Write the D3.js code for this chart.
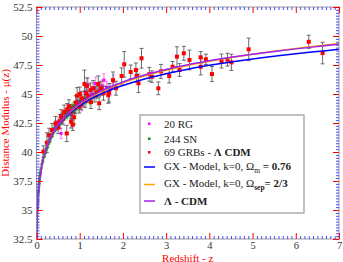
<!DOCTYPE html>
<html><head><meta charset="utf-8">
<script src="https://cdn.jsdelivr.net/npm/d3@7"></script>
<style>
html,body{margin:0;padding:0;background:#fff;}
svg{display:block;font-family:"Liberation Serif","Times New Roman",serif;}
</style></head>
<body>
<svg id="c" width="343" height="262"></svg>
<script>
// ---- data ----
const xTicks = [0,1,2,3,4,5,6,7];
const yTicks = [32.5,35,37.5,40,42.5,45,47.5,50,52.5];
const yTickLabels = ["32.5","35","37.5","40","42.5","45","47.5","50","52.5"];

const curveZ = [0.007,0.01,0.015,0.02,0.03,0.05,0.07,0.1,0.15,0.2,0.25,0.3,0.4,0.5,0.6,0.7,0.8,0.9,1.0,1.2,1.4,1.6,1.8,2.0,2.5,3.0,3.5,4.0,4.5,5.0,5.5,6.0,6.5,7.0];
const muLCDM = [32.48,33.26,34.14,34.77,35.66,36.78,37.52,38.31,39.36,40.05,40.60,41.05,41.78,42.36,42.83,43.23,43.58,43.90,44.19,44.69,45.10,45.45,45.76,46.04,46.63,47.11,47.52,47.86,48.16,48.43,48.67,48.89,49.09,49.28];
const muGXm = [32.48,33.26,34.14,34.77,35.66,36.78,37.51,38.30,39.34,40.02,40.56,41.00,41.71,42.27,42.72,43.10,43.43,43.73,44.00,44.47,44.85,45.18,45.47,45.73,46.29,46.75,47.14,47.47,47.76,48.02,48.25,48.47,48.66,48.85];
const muGXsep = [32.48,33.26,34.14,34.77,35.66,36.78,37.52,38.31,39.36,40.05,40.60,41.05,41.77,42.34,42.80,43.19,43.53,43.85,44.13,44.62,45.02,45.37,45.68,45.96,46.55,47.04,47.46,47.82,48.14,48.43,48.69,48.93,49.14,49.35];

const snZ = [0.012,0.014,0.015,0.016,0.018,0.02,0.021,0.023,0.025,0.026,0.028,0.03,0.031,0.033,0.035,0.036,0.038,0.04,0.042,0.045,0.048,0.05,0.053,0.055,0.058,0.06,0.063,0.065,0.068,0.07,0.074,0.078,0.08,0.085,0.09,0.095,0.1,0.11,0.12,0.13,
0.14,0.15,0.16,0.17,0.18,0.19,0.2,0.21,0.22,0.23,0.24,0.25,0.26,0.27,0.28,0.29,0.3,0.31,0.32,0.33,0.34,0.35,0.36,0.37,0.38,0.39,0.40,0.41,0.42,0.43,0.44,0.45,0.46,0.47,0.48,0.49,0.50,0.51,0.52,0.53,0.54,0.55,0.56,0.57,0.58,0.59,
0.6,0.61,0.62,0.63,0.64,0.65,0.66,0.67,0.68,0.69,0.7,0.71,0.72,0.73,0.74,0.75,0.76,0.77,0.78,0.8,0.81,0.82,0.83,0.85,0.86,0.87,0.88,0.9,0.92,0.93,0.95,0.97,0.98,1.0,1.02,1.05,1.07,1.1,1.12,1.15,1.2,1.23,1.26,1.3,1.34,1.39,1.45,1.55];
const snMu = [33.6,33.9,34.2,34.0,34.5,34.9,34.7,35.1,35.3,35.0,35.6,35.7,35.5,35.9,36.1,35.8,36.3,36.3,36.5,36.6,36.9,36.7,37.0,37.2,37.1,37.3,37.5,37.3,37.6,37.7,37.8,37.9,38.1,38.0,38.3,38.2,38.5,38.6,38.9,39.0,
39.3,39.2,39.5,39.7,39.6,39.9,40.1,39.9,40.3,40.2,40.5,40.6,40.4,40.9,40.7,41.0,41.1,40.9,41.3,41.2,41.5,41.3,41.6,41.5,41.8,41.7,42.0,41.8,42.1,41.9,42.2,42.0,42.3,42.1,42.4,42.2,42.5,42.3,42.6,42.4,42.7,42.5,42.8,42.6,42.9,42.7,
42.9,43.1,42.8,43.2,43.0,43.3,43.1,43.4,43.0,43.3,43.2,43.5,43.1,43.4,43.6,43.3,43.7,43.4,43.6,43.5,43.8,43.4,43.9,43.6,44.0,43.7,43.4,43.9,44.1,43.7,44.2,43.9,44.3,44.0,44.4,44.1,44.5,44.2,44.6,44.3,44.7,44.4,44.8,44.6,45.0,44.8,45.2,45.3];
const snErr = [0.15,0.15,0.2,0.15,0.2,0.2,0.15,0.2,0.2,0.2,0.2,0.2,0.2,0.2,0.2,0.2,0.2,0.2,0.2,0.2,0.2,0.2,0.25,0.2,0.25,0.2,0.25,0.2,0.25,0.2,0.25,0.2,0.25,0.2,0.25,0.2,0.25,0.3,0.25,0.3,
0.3,0.25,0.3,0.3,0.25,0.3,0.3,0.35,0.3,0.3,0.35,0.3,0.3,0.35,0.3,0.35,0.3,0.3,0.35,0.3,0.35,0.3,0.35,0.3,0.35,0.3,0.35,0.3,0.35,0.3,0.35,0.3,0.35,0.3,0.35,0.3,0.35,0.3,0.35,0.3,0.35,0.3,0.35,0.3,0.35,0.3,
0.35,0.4,0.35,0.4,0.35,0.4,0.35,0.4,0.35,0.4,0.35,0.4,0.35,0.4,0.35,0.4,0.35,0.4,0.35,0.4,0.4,0.35,0.4,0.4,0.45,0.4,0.4,0.45,0.4,0.45,0.4,0.45,0.4,0.45,0.4,0.45,0.4,0.45,0.4,0.45,0.4,0.45,0.4,0.45,0.4,0.45,0.4,0.45];

const rgZ = [0.44,0.50,0.57,0.62,0.75,0.81,0.94,1.05,1.12,1.19,1.22,1.29,1.34,1.37,1.45,1.52,1.56,1.62,1.71,1.78];
const rgMu = [42.3,42.6,41.6,42.9,43.6,43.2,44.4,44.0,45.2,45.8,44.9,45.0,45.5,45.9,45.3,45.7,46.2,45.6,45.4,46.1];
const rgErr = [0.4,0.4,0.45,0.4,0.45,0.4,0.5,0.45,0.5,0.55,0.45,0.5,0.5,0.55,0.5,0.5,0.55,0.5,0.5,0.55];

const grbZ = [0.16,0.24,0.29,0.36,0.44,0.50,0.54,0.57,0.61,0.64,0.70,0.71,0.75,0.80,0.80,0.84,0.87,0.89,0.91,0.94,0.99,1.00,1.03,1.05,1.11,1.12,1.15,1.17,1.19,1.25,1.26,1.31,1.35,1.40,1.43,1.45,1.49,1.55,1.66,1.68,1.84,1.97,2.03,2.30,2.32,2.36,2.43,2.61,2.67,2.82,3.07,3.15,3.25,3.31,3.41,3.54,3.80,3.80,3.92,4.06,4.28,4.42,4.51,4.91,6.30,6.62,1.77,2.18,2.88];
const grbMu = [40.03,40.8,41.45,41.9,42.47,42.1,42.65,43.1,42.85,43.45,41.6,43.68,43.95,43.47,42.61,42.35,43.0,43.8,44.25,44.85,43.91,45.0,44.15,44.63,45.86,44.4,45.06,45.7,44.75,45.34,44.3,45.5,44.9,45.15,45.86,44.2,45.49,45.06,44.9,45.1,45.5,46.55,47.56,47.07,46.55,45.92,48.08,46.7,46.49,45.49,46.55,47.35,48.22,47.07,48.51,47.93,48.16,47.35,47.99,46.72,47.84,47.96,47.73,48.85,49.5,48.53,46.2,46.9,46.95];
const grbErr = [0.5,0.86,0.6,0.55,0.6,0.5,0.6,0.55,0.5,0.6,0.7,0.5,0.55,0.6,0.55,0.5,0.6,0.5,0.6,0.7,0.55,0.6,0.5,0.6,1.2,0.55,0.6,0.7,0.5,0.6,0.55,0.65,0.6,0.5,0.7,0.55,0.6,0.6,0.7,0.8,0.6,0.7,1.1,0.6,0.55,0.8,0.85,0.6,0.5,0.55,0.6,0.45,0.85,0.55,0.6,0.85,0.5,0.7,0.45,0.65,0.6,0.55,0.7,0.97,0.57,0.93,0.7,0.6,0.6];

// ---- chart ----
const svg = d3.select("#c");
const L = 36.5, R = 339, T = 7, B = 239;
const x = d3.scaleLinear().domain([0,7]).range([L,R]);
const y = d3.scaleLinear().domain([32.5,52.5]).range([B,T]);

svg.append("defs").append("clipPath").attr("id","clip")
  .append("rect").attr("x",L).attr("y",T).attr("width",R-L).attr("height",B-T);

const plot = svg.append("g").attr("clip-path","url(#clip)");

// SN
const sn = snZ.map((z,i)=>({z, mu:snMu[i], e:snErr[i]}));
plot.append("g").selectAll("line").data(sn).join("line")
  .attr("x1",d=>x(d.z)).attr("x2",d=>x(d.z))
  .attr("y1",d=>y(d.mu-d.e)).attr("y2",d=>y(d.mu+d.e))
  .attr("stroke","#8fdc8f").attr("stroke-width",1);
plot.append("g").selectAll("path").data(sn).join("path")
  .attr("d",d=>`M${x(d.z)-1.5},${y(d.mu)}h3M${x(d.z)},${y(d.mu)-1.5}v3`)
  .attr("stroke","#138a13").attr("stroke-width",1);

// RG
const rg = rgZ.map((z,i)=>({z, mu:rgMu[i], e:rgErr[i]}));
plot.append("g").selectAll("path").data(rg).join("path")
  .attr("d",d=>`M${x(d.z)},${y(d.mu-d.e)}V${y(d.mu+d.e)}M${x(d.z)-1.5},${y(d.mu-d.e)}h3M${x(d.z)-1.5},${y(d.mu+d.e)}h3`)
  .attr("stroke","#f27ff2").attr("stroke-width",1).attr("fill","none");
plot.append("g").selectAll("rect").data(rg).join("rect")
  .attr("x",d=>x(d.z)-1.5).attr("y",d=>y(d.mu)-1.5).attr("width",3).attr("height",3)
  .attr("fill","#ff00ff");

// GRB
const grb = grbZ.map((z,i)=>({z, mu:grbMu[i], e:grbErr[i]}));
plot.append("g").selectAll("path").data(grb).join("path")
  .attr("d",d=>`M${x(d.z)},${y(d.mu-d.e)}V${y(d.mu+d.e)}M${x(d.z)-2},${y(d.mu-d.e)}h4M${x(d.z)-2},${y(d.mu+d.e)}h4`)
  .attr("stroke","#555").attr("stroke-width",1).attr("fill","none").attr("opacity",0.85);
plot.append("g").selectAll("rect").data(grb).join("rect")
  .attr("x",d=>x(d.z)-2).attr("y",d=>y(d.mu)-2).attr("width",4).attr("height",4)
  .attr("fill","#ff0000");

// curves
const line = d3.line().x(d=>x(d[0])).y(d=>y(d[1])).curve(d3.curveMonotoneX);
[[muGXm,"#0000ff"],[muGXsep,"#ffa500"],[muLCDM,"#a020f0"]].forEach(([arr,col])=>{
  plot.append("path").datum(curveZ.map((z,i)=>[z,arr[i]]))
    .attr("d",line).attr("fill","none").attr("stroke",col).attr("stroke-width",1.5);
});

// frame
svg.append("rect").attr("x",L).attr("y",T).attr("width",R-L).attr("height",B-T)
  .attr("fill","none").attr("stroke","#9a9a9a").attr("stroke-width",1);

// ticks
const xMinor = d3.range(0,71).map(i=>i/10).filter(v=>Math.abs(v-Math.round(v))>1e-6);
const yMinor = d3.range(0,81).map(i=>32.5+i*0.25).filter(v=>Math.abs(v/2.5-Math.round(v/2.5))>1e-6);
function styleAxis(g,col){ g.select(".domain").remove(); g.selectAll(".tick line").attr("stroke",col); }
svg.append("g").attr("transform",`translate(0,${B})`).call(d3.axisBottom(x).tickValues(xMinor).tickSize(-3).tickFormat("")).call(g=>styleAxis(g,"#4a4aff"));
svg.append("g").attr("transform",`translate(0,${T})`).call(d3.axisTop(x).tickValues(xMinor).tickSize(-3).tickFormat("")).call(g=>styleAxis(g,"#4a4aff"));
svg.append("g").attr("transform",`translate(${L},0)`).call(d3.axisLeft(y).tickValues(yMinor).tickSize(-3).tickFormat("")).call(g=>styleAxis(g,"#4a4aff"));
svg.append("g").attr("transform",`translate(${R},0)`).call(d3.axisRight(y).tickValues(yMinor).tickSize(-3).tickFormat("")).call(g=>styleAxis(g,"#4a4aff"));

const xb = svg.append("g").attr("transform",`translate(0,${B})`)
  .call(d3.axisBottom(x).tickValues(xTicks).tickSize(-6).tickPadding(3).tickFormat(d3.format("d")));
styleAxis(xb,"#ff0000");
xb.selectAll("text").attr("fill","#333").attr("font-size",10.5).attr("font-family","Liberation Serif, serif");
svg.append("g").attr("transform",`translate(0,${T})`)
  .call(d3.axisTop(x).tickValues(xTicks).tickSize(-6).tickFormat("")).call(g=>styleAxis(g,"#ff0000"));
const yl = svg.append("g").attr("transform",`translate(${L},0)`)
  .call(d3.axisLeft(y).tickValues(yTicks).tickSize(-6).tickPadding(4).tickFormat((d,i)=>yTickLabels[i]));
styleAxis(yl,"#ff0000");
yl.selectAll("text").attr("fill","#333").attr("font-size",11).attr("font-family","Liberation Serif, serif");
svg.append("g").attr("transform",`translate(${R},0)`)
  .call(d3.axisRight(y).tickValues(yTicks).tickSize(-6).tickFormat("")).call(g=>styleAxis(g,"#ff0000"));

// axis titles
svg.append("text").attr("x",(L+R)/2).attr("y",261.5).attr("text-anchor","middle")
  .attr("fill","#ff0000").attr("font-size",11).text("Redshift - z");
svg.append("text").attr("transform",`translate(9,${(T+B)/2}) rotate(-90)`).attr("text-anchor","middle")
  .attr("fill","#ff0000").attr("font-size",11).text("Distance Modulus - μ(z)");

// legend
const lg = svg.append("g");
lg.append("rect").attr("x",140).attr("y",115).attr("width",164).attr("height",98)
  .attr("fill","#fff").attr("stroke","#999").attr("stroke-width",1.2);
const tx = 164;
function row(yc){ return lg.append("text").attr("x",tx).attr("y",yc+3.8).attr("font-size",11).attr("fill","#222"); }
lg.append("rect").attr("x",148).attr("y",122.5).attr("width",2.5).attr("height",2.5).attr("fill","#ff00ff");
row(124).text("20 RG");
lg.append("rect").attr("x",148).attr("y",137.5).attr("width",2.5).attr("height",2.5).attr("fill","#138a13");
row(139).text("244 SN");
lg.append("rect").attr("x",148).attr("y",151).attr("width",2.5).attr("height",2.5).attr("fill","#ff0000");
const r3 = row(152.5); r3.append("tspan").text("69 GRBs - "); r3.append("tspan").attr("font-weight","bold").text("Λ CDM");
lg.append("line").attr("x1",144).attr("x2",155).attr("y1",167).attr("y2",167).attr("stroke","#0000ff").attr("stroke-width",1.5);
const r4 = row(166.5); r4.append("tspan").text("GX - Model, k=0, Ω");
r4.append("tspan").attr("font-size",7.5).attr("dy",3).text("m");
r4.append("tspan").attr("dy",-3).attr("font-weight","bold").text(" = 0.76");
lg.append("line").attr("x1",144).attr("x2",155).attr("y1",184.5).attr("y2",184.5).attr("stroke","#ffa500").attr("stroke-width",1.5);
const r5 = row(183.5); r5.append("tspan").text("GX - Model, k=0, Ω");
r5.append("tspan").attr("font-size",7.5).attr("dy",3).attr("font-weight","bold").text("sep");
r5.append("tspan").attr("dy",-3).attr("font-weight","bold").text("= 2/3");
lg.append("line").attr("x1",144).attr("x2",155).attr("y1",201).attr("y2",201).attr("stroke","#a020f0").attr("stroke-width",1.5);
row(201).attr("font-weight","bold").text("Λ - CDM");
</script>
</body></html>
